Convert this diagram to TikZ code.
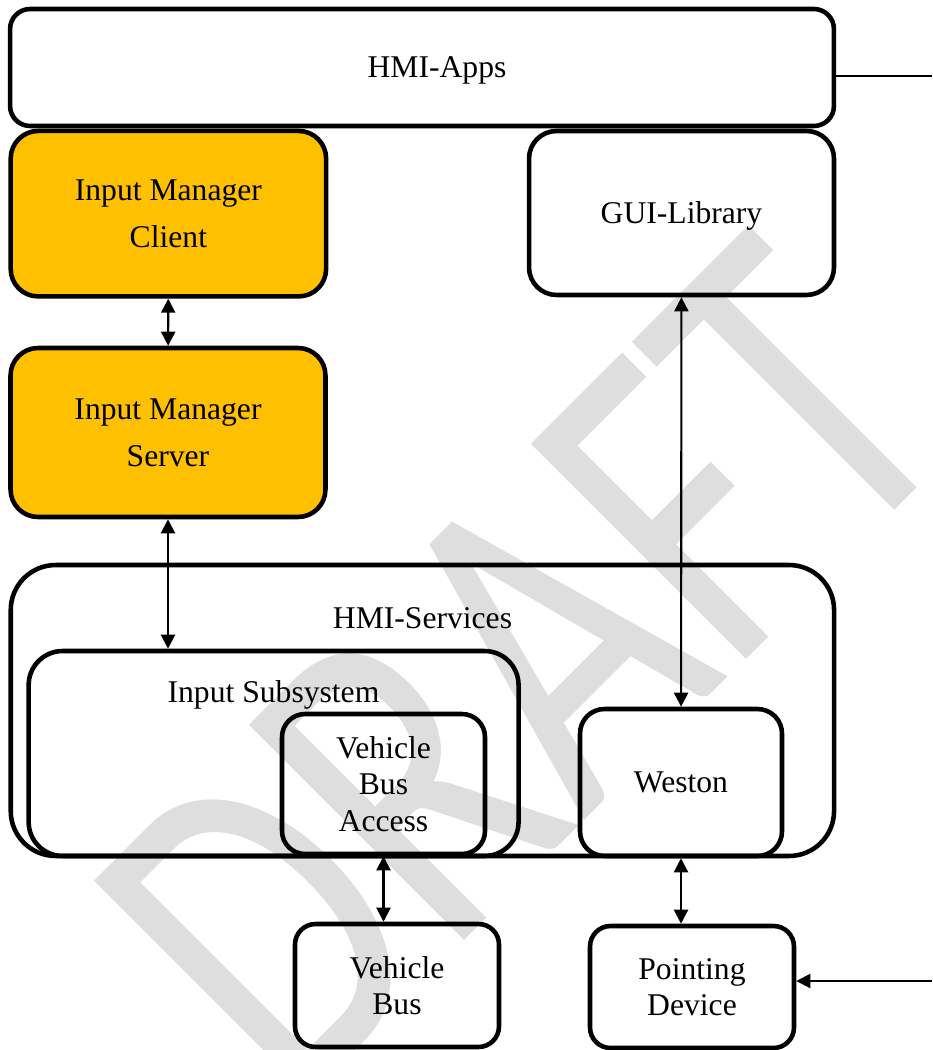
\documentclass[tikz,border=0pt]{standalone}
\usepackage{fontspec}
\setmainfont{Liberation Serif}
\newfontfamily\wmfont{Carlito}
\usetikzlibrary{arrows.meta}
\definecolor{imgold}{HTML}{FFC000}

\begin{document}
\begin{tikzpicture}[x=0.02cm, y=-0.02cm,
    every node/.style={font=\fontsize{18}{20.7}\selectfont},
    blk/.style={draw, line width=2.6pt, inner sep=0pt, align=center, text depth=0pt, rounded corners=#1},
    blk/.default=0.45cm,
    imbox/.style={blk=0.55cm, fill=imgold, font=\fontsize{18}{27}\selectfont},
    link/.style={line width=1.2pt, {Triangle[length=0.28cm,width=0.28cm]}-{Triangle[length=0.28cm,width=0.28cm]}}]
  \useasboundingbox (0,0) rectangle (932,1050);
  \node[text=black!13, rotate=45, font=\wmfont\fontsize{270}{270}\selectfont] (draft) at (522,668) {\scalebox{0.75}[1]{DRAFT}};
  \node[blk=0.4cm, minimum width=16.48cm, minimum height=2.34cm] (apps) at (422,67.5) {\hspace*{0.6cm}HMI-Apps};
  \node[imbox, minimum width=6.31cm, minimum height=3.31cm] (imc) at (168.4,213.7) {Input Manager\\Client};
  \node[blk=0.55cm, minimum width=6.1cm, minimum height=3.28cm] (gui) at (681.5,213) {GUI-Library};
  \node[imbox, minimum width=6.3cm, minimum height=3.38cm] (ims) at (168,432.5) {Input Manager\\Server};
  \node[blk=0.9cm, minimum width=16.47cm, minimum height=5.82cm] (svc) at (422.4,710.5) {};
  \node[anchor=base] (svctitle) at (422.5,628) {HMI-Services};
  \node[blk=0.68cm, minimum width=9.8cm, minimum height=4.1cm] (isub) at (273.6,753.5) {};
  \node[anchor=base] (isubtitle) at (273.5,702.6) {Input Subsystem};
  \node[blk=0.46cm, minimum width=4.06cm, minimum height=2.8cm] (vba) at (383.5,784) {Vehicle\\Bus\\Access};
  \node[blk=0.49cm, minimum width=4.04cm, minimum height=2.94cm] (weston) at (681,782.5) {Weston};
  \node[blk=0.41cm, minimum width=4.08cm, minimum height=2.46cm] (vbus) at (397,985.5) {Vehicle\\Bus};
  \node[blk=0.41cm, minimum width=4.08cm, minimum height=2.44cm] (pdev) at (692,987) {Pointing\\Device};
  \draw[link] (imc) -- (ims);
  \draw[link] (ims.south) -- (ims.south |- isub.north);
  \draw[link] (gui) -- (weston);
  \draw[link] (vba.south) -- (vba.south |- vbus.north);
  \draw[link] (weston.south) -- (weston.south |- pdev.north);
  \coordinate (appsout) at (932,75.7);
  \draw[line width=1.2pt] (apps.east |- appsout) -- (appsout);
  \coordinate (pdin) at (932,981);
  \draw[line width=1.2pt, -{Triangle[length=0.28cm,width=0.28cm]}] (pdin) -- (pdin -| pdev.east);
\end{tikzpicture}
\end{document}
